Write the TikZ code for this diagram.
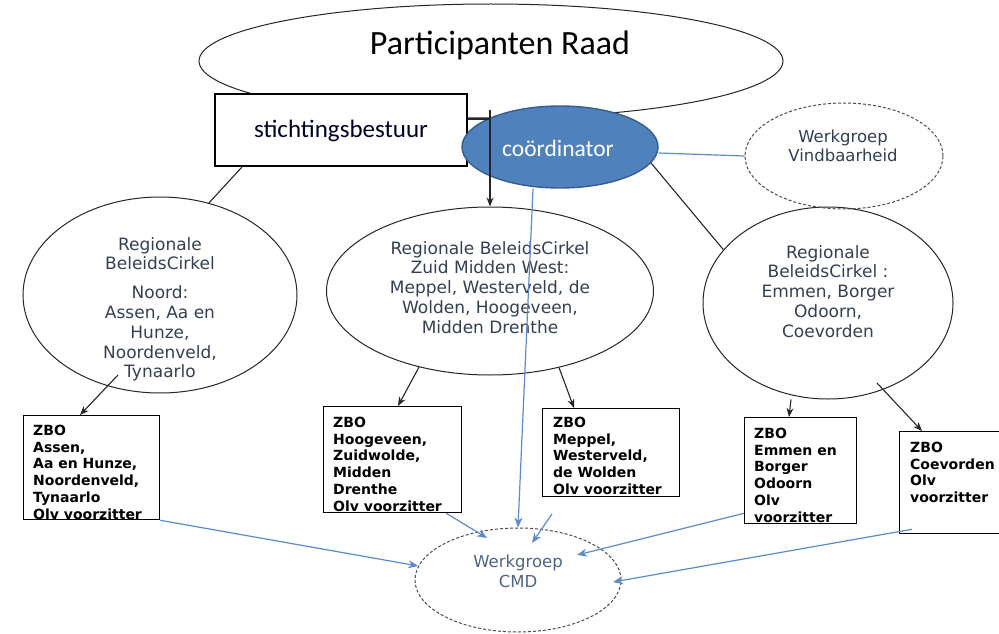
\documentclass[tikz,border=0pt]{standalone}
\usepackage{fontspec}
\setmainfont{DejaVu Sans}
\newfontfamily\calfont{Carlito}
\usetikzlibrary{shapes.geometric,arrows.meta}
\definecolor{cblue}{HTML}{4F81BD}
\definecolor{cborder}{HTML}{385D8A}
\definecolor{lblue}{HTML}{5B8BCB}
\definecolor{etext}{HTML}{353F52}
\definecolor{cmdtext}{HTML}{4F6386}
\begin{document}
\begin{tikzpicture}[x=1pt,y=-1pt,
 ell/.style={ellipse, draw=black!85, line width=1pt, inner sep=0, fill=white},
 dell/.style={ellipse, draw=black!70, line width=1pt, dash pattern=on 3pt off 2pt, inner sep=0},
 zbo/.style={draw, line width=1.3pt, inner sep=0, anchor=north west, fill=white},
 etxt/.style={font=\fontsize{17}{19.8}\selectfont, text=etext, align=center, inner sep=0, anchor=north},
 ztxt/.style={font=\fontsize{14}{16.7}\selectfont\bfseries, align=left, inner sep=0, anchor=north west},
 ln/.style={draw=black!85, line width=1.1pt},
 arr/.style={ln, -{Stealth[length=9pt,width=7pt]}},
 bln/.style={draw=lblue, line width=1.2pt},
 barr/.style={bln, -{Stealth[length=10pt,width=8pt]}}]
\useasboundingbox (0,0) rectangle (999,634);
\fill[white] (0,0) rectangle (999,634);

% top level
\node[ell, minimum width=584pt, minimum height=114pt] (pr) at (491,61) {};
\node[font=\calfont\fontsize{34}{40}\selectfont, anchor=base, inner sep=0] (prt) at (500,55) {Participanten Raad};
\node[draw, line width=2.2pt, fill=white, minimum width=252pt, minimum height=72pt, inner sep=0] (stich) at (341,130) {};
\node[font=\calfont\fontsize{25}{30}\selectfont, anchor=base, inner sep=0, text=black!85!blue] (stt) at (341,137) {stichtingsbestuur};
\node[ellipse, draw=cborder, fill=cblue, line width=1.4pt, inner sep=0, minimum width=196pt, minimum height=82pt] (coord) at (560,147) {};
\node[font=\calfont\fontsize{23.5}{28}\selectfont, anchor=base, inner sep=0, text=white] (ct) at (558,156) {coördinator};

% ellipses
\node[ell, minimum width=274pt, minimum height=196pt] (left) at (160,295) {};
\node[ell, minimum width=327pt, minimum height=168pt] (mid) at (490,291) {};
\node[ell, minimum width=250pt, minimum height=192pt] (right) at (828,303) {};
\node[dell, minimum width=198pt, minimum height=106pt] (vind) at (844,156) {};
\node[dell, minimum width=206pt, minimum height=104pt] (cmd) at (518,580) {};

\node[etxt] (lt) at (160,237) {Regionale\\BeleidsCirkel\\[9pt]Noord:\\Assen, Aa en\\Hunze,\\Noordenveld,\\Tynaarlo};
\node[etxt] (mt) at (490,241) {Regionale BeleidsCirkel\\Zuid Midden West:\\Meppel, Westerveld, de\\Wolden, Hoogeveen,\\Midden Drenthe};
\node[etxt] (rt) at (828,245) {Regionale\\BeleidsCirkel :\\Emmen, Borger\\Odoorn,\\Coevorden};
\node[etxt, font=\fontsize{16.5}{18.5}\selectfont] (vt) at (843,130) {Werkgroep\\Vindbaarheid};
\node[etxt, text=cmdtext, font=\fontsize{16.5}{20}\selectfont] (cmt) at (518,555) {Werkgroep\\CMD};

% ZBO boxes
\node[zbo, minimum width=136pt, minimum height=104pt] (box1) at (23,415) {};
\node[zbo, minimum width=138pt, minimum height=106pt] (box2) at (323,406) {};
\node[zbo, minimum width=137pt, minimum height=88pt] (box3) at (542,408) {};
\node[zbo, minimum width=112pt, minimum height=106pt] (box4) at (744,417) {};
\node[zbo, minimum width=112pt, minimum height=102pt] (box5) at (899,431) {};
\begin{scope}
\clip (23,415) rectangle (159,519);
\node[ztxt] (t1) at (33,425) {ZBO\\Assen,\\Aa en Hunze,\\Noordenveld,\\Tynaarlo\\Olv voorzitter};
\end{scope}
\begin{scope}
\clip (323,406) rectangle (461,512);
\node[ztxt] (t2) at (333,417) {ZBO\\Hoogeveen,\\Zuidwolde,\\Midden\\Drenthe\\Olv voorzitter};
\end{scope}
\begin{scope}
\clip (542,408) rectangle (679,496);
\node[ztxt] (t3) at (553,417) {ZBO\\Meppel,\\Westerveld,\\de Wolden\\Olv voorzitter};
\end{scope}
\begin{scope}
\clip (744,417) rectangle (856,523);
\node[ztxt] (t4) at (754,428) {ZBO\\Emmen en\\Borger\\Odoorn\\Olv\\voorzitter};
\end{scope}
\begin{scope}
\clip (899,431) rectangle (1011,533);
\node[ztxt] (t5) at (910,442) {ZBO\\Coevorden\\Olv\\voorzitter};
\end{scope}

% black connectors
\coordinate (jn) at (490,110);
\draw[ln] ([xshift=28pt]stich.south west) -- (left.62);
\draw[ln] (coord.-10) -- (right.153);
\draw[ln] ([yshift=11pt]stich.east) -| (jn);
\draw[arr] (jn) -- (mid.north);
\draw[arr] ([shift={(-42,80)}]left.center) -- ([xshift=57pt]box1.north west);
\draw[arr] (mid.-133) -- ([xshift=75pt]box2.north west);
\draw[arr] (mid.-48) -- ([xshift=32pt]box3.north west);
\draw[arr] ([xshift=-37pt]right.south) -- ([xshift=45pt]box4.north west);
\draw[arr] ([shift={(49,80)}]right.center) -- ([xshift=23pt]box5.north west);

% blue connectors
\draw[bln] ([yshift=-6pt]coord.east) -- (vind.west);
\draw[barr] ([xshift=-27pt]coord.south) -- (cmd.north);
\draw[barr] (box1.south east) -- (cmd.172);
\draw[barr] ([xshift=-16pt]box2.south east) -- ([shift={(-31,-42)}]cmd.center);
\coordinate (fs) at (552,514);
\draw[barr] (fs) -- ([shift={(14,-37)}]cmd.center);
\draw[barr] ([yshift=11pt]box4.south west) -- ([shift={(59,-25)}]cmd.center);
\draw[barr] ([shift={(13,-5)}]box5.south west) -- ([shift={(95,2)}]cmd.center);
\end{tikzpicture}
\end{document}
